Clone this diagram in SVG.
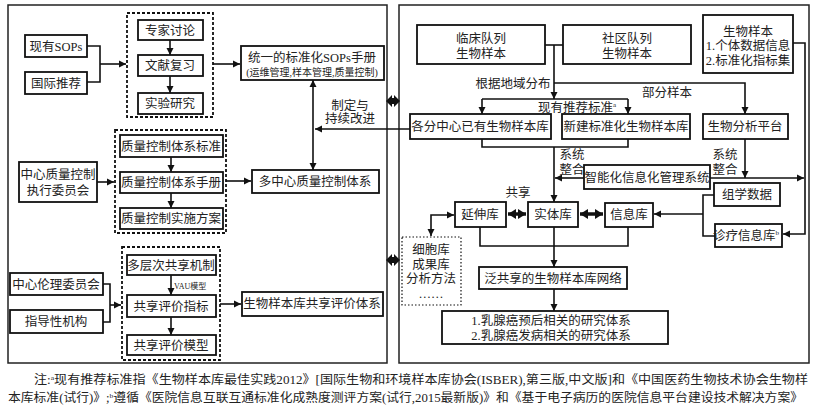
<svg xmlns="http://www.w3.org/2000/svg" width="817" height="411" viewBox="0 0 817 411">
<defs>
<marker id="ah" markerUnits="userSpaceOnUse" markerWidth="8" markerHeight="8" refX="7" refY="4" orient="auto-start-reverse"><path d="M0,0.5 L7,4 L0,7.5 z" fill="#111"/></marker>
<marker id="ahb" markerUnits="userSpaceOnUse" markerWidth="9" markerHeight="10" refX="8" refY="5" orient="auto-start-reverse"><path d="M0,0 L8,5 L0,10 z" fill="#111"/></marker>
<style>
text{font-family:"Liberation Serif","Noto Sans CJK SC",serif;fill:#222;font-size:12.5px;text-anchor:middle}
.b{fill:#fff;stroke:#111;stroke-width:1.8}
.d{fill:none;stroke:#111;stroke-width:1.8;stroke-dasharray:3 2}
.o{fill:none;stroke:#111;stroke-width:1.2;stroke-dasharray:1.5 2}
.p{fill:#fff;stroke:#222;stroke-width:1.5}
.c{fill:none;stroke:#111;stroke-width:1.6}
.a{marker-end:url(#ah)}
.aa{marker-start:url(#ah);marker-end:url(#ah)}
.tb{fill:none;stroke:#111;stroke-width:3.5;marker-start:url(#ahb);marker-end:url(#ahb)}
.s{font-size:10px}
.xs{font-size:8px;text-anchor:start}
.cap{font-size:12px;text-anchor:start}
</style>
</defs>
<g id="panel-left"><rect class="p" x="8" y="5" width="379" height="358"/></g>
<g id="panel-right"><rect class="p" x="399" y="5" width="410" height="358"/></g>

<g id="connectors">
<!-- left panel -->
<path class="c" d="M87,46 H100 V82 H87"/>
<path class="c a" d="M100,64 H126"/>
<path class="c a" d="M170,40 V55"/>
<path class="c a" d="M170,76 V93"/>
<path class="c a" d="M213,64 H240"/>
<path class="c a" d="M410,129 H315"/>
<path class="c aa" d="M313,170 V80"/>
<path class="c a" d="M171,157 V172"/>
<path class="c a" d="M171,193 V208"/>
<path class="c a" d="M97,182 H114"/>
<path class="c a" d="M226,181 H251"/>
<path class="c a" d="M171,275 V295"/>
<path class="c a" d="M171,317 V335"/>
<path class="c" d="M103,284 H110 V322 H103"/>
<path class="c a" d="M110,305 H121"/>
<path class="c a" d="M220,304 H241"/>
<!-- between panels -->
<path d="M386,101 L392,95 V107 Z M400,101 L394,95 V107 Z" fill="#111"/>
<rect x="391" y="98" width="4" height="6" fill="#111"/>
<path d="M386,260 L392,254 V266 Z M400,260 L394,254 V266 Z" fill="#111"/>
<rect x="391" y="257" width="4" height="6" fill="#111"/>
<!-- right panel -->
<path class="c" d="M545,45 H563"/>
<path class="c a" d="M554,45 V99"/>
<path class="c a" d="M554,83 H745 V114"/>
<path class="c" d="M482,99 H628"/>
<path class="c a" d="M482,99 V114"/>
<path class="c a" d="M628,99 V114"/>
<path class="c" d="M482,139 V147 H628 V139"/>
<path class="c a" d="M554,147 V202"/>
<path class="c a" d="M584,178 H555"/>
<path class="c a" d="M745,139 V178"/>
<path class="c a" d="M710,178 H804"/>
<path class="c a" d="M793,43 H805 V234 H783"/>
<path class="c" d="M714,195 H703 V236 H715"/>
<path class="c a" d="M703,214 H654"/>
<path class="tb" d="M508,214 H526"/>
<path class="tb" d="M580,214 H603"/>
<path class="c aa" d="M431,236 V215 H454"/>
<path class="c" d="M480,227 V246 H628 V227"/>
<path class="c a" d="M554,227 V267"/>
<path class="c a" d="M554,289 V311"/>
</g>

<!-- left panel nodes -->
<g id="grp-sop"><rect class="d" x="127" y="13" width="86" height="104"/></g>
<g id="n-existing-sops"><rect class="b" x="25" y="35" width="62" height="22"/><text x="56" y="51">现有SOPs</text></g>
<g id="n-intl"><rect class="b" x="25" y="72" width="62" height="22"/><text x="56" y="88">国际推荐</text></g>
<g id="n-expert"><rect class="b" x="138" y="20" width="65" height="20"/><text x="170" y="35">专家讨论</text></g>
<g id="n-lit"><rect class="b" x="138" y="55" width="65" height="21"/><text x="170" y="70">文献复习</text></g>
<g id="n-exp"><rect class="b" x="138" y="93" width="65" height="21"/><text x="170" y="108">实验研究</text></g>
<g id="n-unified"><rect class="b" x="241" y="46" width="143" height="34"/><text x="312" y="62">统一的标准化SOPs手册</text><text class="s" x="312" y="76">(运维管理,样本管理,质量控制)</text></g>
<g id="lbl-improve"><text x="350" y="110">制定与</text><text x="350" y="123">持续改进</text></g>

<g id="grp-qc"><rect class="d" x="115" y="130" width="111" height="103"/></g>
<g id="n-qc-std"><rect class="b" x="120" y="135" width="103" height="22"/><text x="171" y="151">质量控制体系标准</text></g>
<g id="n-qc-manual"><rect class="b" x="120" y="172" width="103" height="21"/><text x="171" y="187">质量控制体系手册</text></g>
<g id="n-qc-plan"><rect class="b" x="120" y="208" width="103" height="21"/><text x="171" y="223">质量控制实施方案</text></g>
<g id="n-qc-committee"><rect class="b" x="19" y="162" width="78" height="40"/><text x="58" y="179">中心质量控制</text><text x="58" y="195">执行委员会</text></g>
<g id="n-multicenter"><rect class="b" x="252" y="170" width="127" height="23"/><text x="315" y="186">多中心质量控制体系</text></g>

<g id="grp-share"><rect class="d" x="122" y="247" width="98" height="113"/></g>
<g id="n-multilevel"><rect class="b" x="127" y="255" width="89" height="20"/><text x="171" y="270">多层次共享机制</text></g>
<g id="lbl-vau"><text class="xs" x="174" y="289">VAU模型</text></g>
<g id="n-share-index"><rect class="b" x="127" y="295" width="89" height="22"/><text x="171" y="311">共享评价指标</text></g>
<g id="n-share-model"><rect class="b" x="127" y="335" width="89" height="20"/><text x="171" y="350">共享评价模型</text></g>
<g id="n-ethics"><rect class="b" x="10" y="273" width="93" height="22"/><text x="56" y="289">中心伦理委员会</text></g>
<g id="n-guide"><rect class="b" x="10" y="310" width="93" height="23"/><text x="56" y="326">指导性机构</text></g>
<g id="n-share-eval"><rect class="b" x="242" y="292" width="141" height="24"/><text x="312" y="308">生物样本库共享评价体系</text></g>

<!-- right panel nodes -->
<g id="n-clinical"><rect class="b" x="417" y="25" width="128" height="39"/><text x="481" y="43">临床队列</text><text x="481" y="58">生物样本</text></g>
<g id="n-community"><rect class="b" x="563" y="25" width="128" height="39"/><text x="627" y="43">社区队列</text><text x="627" y="58">生物样本</text></g>
<g id="n-biosample"><rect class="b" x="703" y="15" width="90" height="58"/><text x="748" y="36">生物样本</text><text x="748" y="50">1.个体数据信息</text><text x="748" y="65">2.标准化指标集</text></g>
<g id="lbl-region"><text x="513" y="88">根据地域分布</text></g>
<g id="lbl-part"><text x="667" y="97">部分样本</text></g>
<g id="lbl-std"><text x="577" y="112">现有推荐标准<tspan font-size="7" dy="-5">a</tspan></text></g>
<g id="n-existing-bank"><rect class="b" x="410" y="114" width="141" height="25"/><text x="480" y="131">各分中心已有生物样本库</text></g>
<g id="n-new-bank"><rect class="b" x="562" y="114" width="128" height="25"/><text x="626" y="131">新建标准化生物样本库</text></g>
<g id="n-analysis"><rect class="b" x="703" y="114" width="85" height="25"/><text x="745" y="131">生物分析平台</text></g>
<g id="lbl-integ1"><text x="572" y="159">系统</text><text x="572" y="174">整合</text></g>
<g id="lbl-integ2"><text x="725" y="159">系统</text><text x="725" y="174">整合</text></g>
<g id="n-mgmt"><rect class="b" x="584" y="165" width="126" height="24"/><text x="647" y="182">智能化信息化管理系统</text></g>
<g id="n-omics"><rect class="b" x="714" y="183" width="66" height="23"/><text x="747" y="199">组学数据</text></g>
<g id="n-clinic-info"><rect class="b" x="715" y="224" width="67" height="23"/><text x="746" y="240">诊疗信息库<tspan font-size="7" dy="-5">b</tspan></text></g>
<g id="n-info"><rect class="b" x="605" y="203" width="48" height="24"/><text x="629" y="219">信息库</text></g>
<g id="n-entity"><rect class="b" x="528" y="202" width="50" height="25"/><text x="553" y="219">实体库</text></g>
<g id="n-ext"><rect class="b" x="455" y="202" width="51" height="25"/><text x="480" y="219">延伸库</text></g>
<g id="lbl-share"><text x="518" y="197">共享</text></g>
<g id="n-cell"><rect class="o" x="402" y="237" width="59" height="68"/><text x="431" y="254">细胞库</text><text x="431" y="269">成果库</text><text x="431" y="283">分析方法</text><text x="431" y="298" font-size="9">……</text></g>
<g id="n-network"><rect class="b" x="479" y="267" width="148" height="22"/><text x="553" y="283">泛共享的生物样本库网络</text></g>
<g id="n-research"><rect class="b" x="442" y="311" width="226" height="33"/><text x="551" y="325">1.乳腺癌预后相关的研究体系</text><text x="551" y="340">2.乳腺癌发病相关的研究体系</text></g>

<g id="caption">
<text class="cap" x="34" y="384" textLength="774" lengthAdjust="spacingAndGlyphs">注:<tspan font-size="7" dy="-4">a</tspan><tspan dy="4">现有推荐标准指《生物样本库最佳实践2012》[国际生物和环境样本库协会(ISBER),第三版,中文版]和《中国医药生物技术协会生物样</tspan></text>
<text class="cap" x="8" y="402" textLength="795" lengthAdjust="spacingAndGlyphs">本库标准(试行)》;<tspan font-size="7" dy="-4">b</tspan><tspan dy="4">遵循《医院信息互联互通标准化成熟度测评方案(试行,2015最新版)》和《基于电子病历的医院信息平台建设技术解决方案》</tspan></text>
</g>
</svg>
